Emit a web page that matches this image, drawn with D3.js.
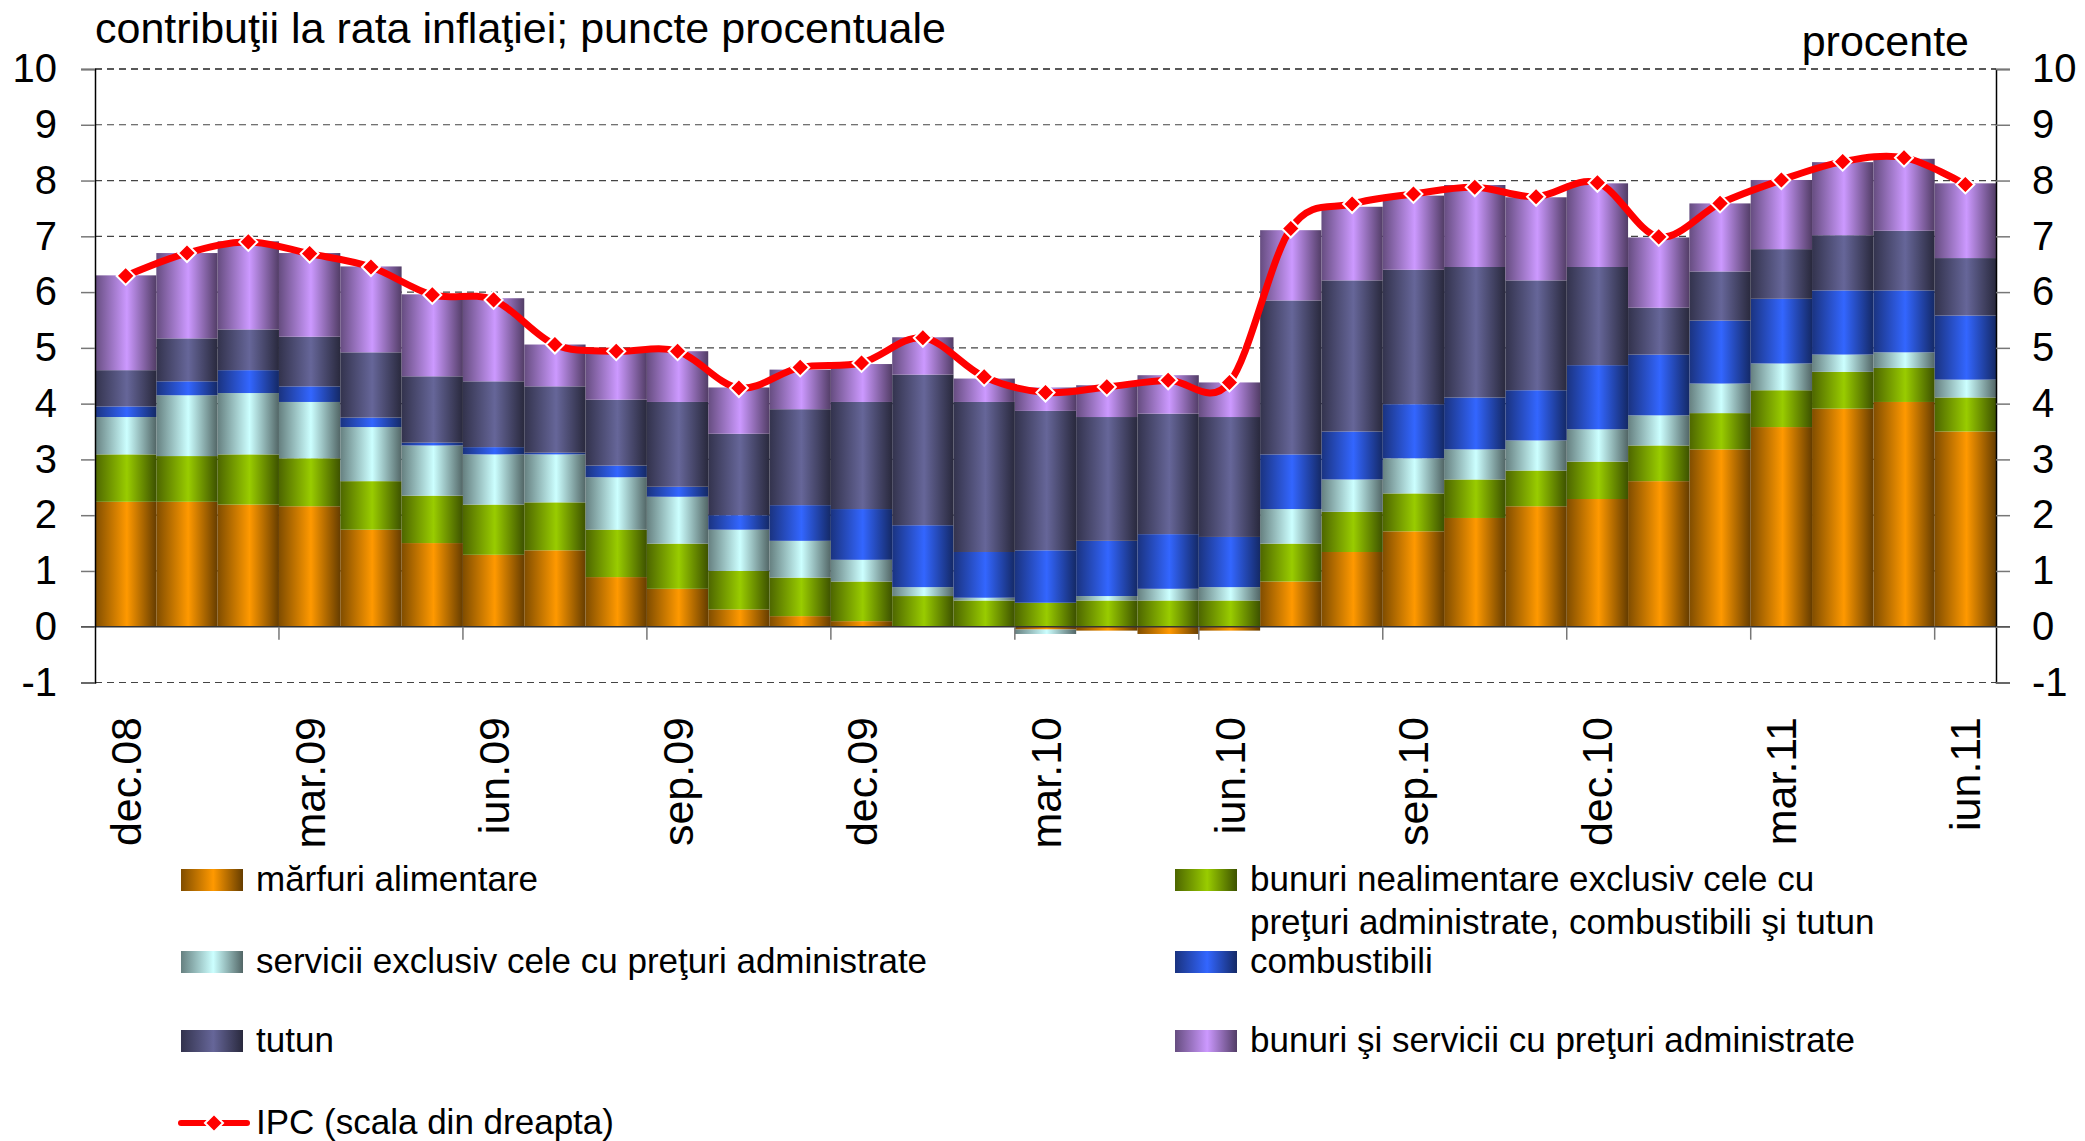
<!DOCTYPE html>
<html>
<head>
<meta charset="utf-8">
<script src="https://cdn.jsdelivr.net/npm/d3@7"></script>
<style>
  body { margin: 0; background: #fff; }
  text { font-family: "Liberation Sans", Arial, sans-serif; fill: #000; }
</style>
</head>
<body>
<div id="chart"></div>
<script>
// data
var months = ["dec.08","ian.09","feb.09","mar.09","apr.09","mai.09","iun.09","iul.09","aug.09","sep.09","oct.09","nov.09",
  "dec.09","ian.10","feb.10","mar.10","apr.10","mai.10","iun.10","iul.10","aug.10","sep.10","oct.10","nov.10",
  "dec.10","ian.11","feb.11","mar.11","apr.11","mai.11","iun.11"];

var alimentare   = [2.24,2.24,2.19,2.16,1.74,1.50,1.29,1.37,0.89,0.68,0.31,0.19,0.10,0.00,0.00,-0.05,-0.07,-0.13,-0.07,0.81,1.34,1.71,1.95,2.16,2.29,2.61,3.18,3.58,3.91,4.03,3.50];
var nealimentare = [0.85,0.82,0.90,0.86,0.87,0.85,0.90,0.86,0.85,0.81,0.69,0.69,0.71,0.55,0.47,0.43,0.47,0.47,0.47,0.68,0.72,0.68,0.69,0.64,0.67,0.64,0.65,0.66,0.66,0.61,0.61];
var servicii     = [0.67,1.09,1.10,1.01,0.97,0.90,0.90,0.86,0.94,0.84,0.74,0.66,0.39,0.16,0.05,-0.08,0.08,0.21,0.24,0.62,0.58,0.63,0.54,0.54,0.58,0.54,0.53,0.48,0.31,0.28,0.32];
var combustibili = [0.19,0.25,0.41,0.28,0.17,0.05,0.13,0.03,0.21,0.18,0.26,0.64,0.91,1.11,0.82,0.94,0.99,0.98,0.90,0.98,0.86,0.97,0.93,0.90,1.15,1.09,1.13,1.16,1.15,1.11,1.15];
var tutun        = [0.65,0.77,0.73,0.89,1.17,1.19,1.18,1.19,1.18,1.52,1.46,1.72,1.92,2.70,2.69,2.50,2.22,2.16,2.15,2.76,2.71,2.41,2.34,1.97,1.76,0.84,0.88,0.89,0.99,1.07,1.03];
var administrate = [1.70,1.53,1.58,1.50,1.54,1.47,1.49,0.75,0.87,0.91,0.83,0.71,0.68,0.67,0.42,0.42,0.57,0.69,0.62,1.26,1.32,1.33,1.47,1.49,1.50,1.26,1.22,1.24,1.31,1.29,1.34];
var ipc          = [6.29,6.70,6.90,6.69,6.45,5.95,5.86,5.06,4.94,4.94,4.28,4.65,4.73,5.18,4.48,4.20,4.30,4.42,4.38,7.14,7.58,7.76,7.88,7.71,7.96,6.99,7.59,8.01,8.34,8.41,7.93];

var yTicks = [-1,0,1,2,3,4,5,6,7,8,9,10];

var seriesNames = ["mărfuri alimentare",
  "bunuri nealimentare exclusiv cele cu|preţuri administrate, combustibili şi tutun",
  "servicii exclusiv cele cu preţuri administrate",
  "combustibili",
  "tutun",
  "bunuri şi servicii cu preţuri administrate"];
var seriesColors = ["#ff9900","#99cc00","#ccffff","#3366ff","#666699","#cc99ff"];
var seriesValues = [alimentare, nealimentare, servicii, combustibili, tutun, administrate];

var W = 2085, H = 1141;
var m = { left: 95, right: 1996, top: 69, bottom: 682.5 };

var svg = d3.select("#chart").append("svg")
  .attr("width", W).attr("height", H);

// cylinder-like horizontal gradients
var defs = svg.append("defs");
seriesColors.forEach(function (c, i) {
  var g = defs.append("linearGradient").attr("id", "grad" + i)
    .attr("x1", "0%").attr("x2", "100%").attr("y1", "0%").attr("y2", "0%");
  var dark = d3.interpolateRgb(c, "#000");
  g.append("stop").attr("offset", "0%").attr("stop-color", dark(0.5));
  g.append("stop").attr("offset", "52%").attr("stop-color", c);
  g.append("stop").attr("offset", "100%").attr("stop-color", dark(0.6));
});

// scales
var x = d3.scaleBand().domain(months).range([m.left, m.right]).padding(0);
var y = d3.scaleLinear().domain([-1, 10]).range([m.bottom, m.top]);

// gridlines
svg.append("g").selectAll("line")
  .data(yTicks.filter(function (d) { return d !== 0; }))
  .enter().append("line")
  .attr("x1", m.left).attr("x2", m.right)
  .attr("y1", function (d) { return y(d); }).attr("y2", function (d) { return y(d); })
  .attr("stroke", function (d) { return d === 10 ? "#222" : "#444"; })
  .attr("stroke-width", function (d) { return d === 10 ? 1.6 : 1.2; })
  .attr("stroke-dasharray", "7,5");

// stacked bars
var table = months.map(function (mo, i) {
  var row = { month: mo };
  seriesValues.forEach(function (s, k) { row["s" + k] = s[i]; });
  return row;
});
var stack = d3.stack().keys(["s0","s1","s2","s3","s4","s5"]).offset(d3.stackOffsetDiverging);
var layers = stack(table);

svg.append("g").selectAll("g")
  .data(layers)
  .enter().append("g")
  .attr("fill", function (d, i) { return "url(#grad" + i + ")"; })
  .selectAll("rect")
  .data(function (d) { return d; })
  .enter().append("rect")
  .attr("x", function (d) { return x(d.data.month); })
  .attr("width", x.bandwidth())
  .attr("y", function (d) { return y(Math.max(d[0], d[1])); })
  .attr("height", function (d) { return Math.abs(y(d[0]) - y(d[1])); });

// zero line
svg.append("line")
  .attr("x1", m.left - 14).attr("x2", m.right + 14)
  .attr("y1", y(0)).attr("y2", y(0))
  .attr("stroke", "#333").attr("stroke-width", 1.5);

// category ticks every 3 months
svg.append("g").selectAll("line")
  .data(months.filter(function (d, i) { return i % 3 === 0 && i > 0; }))
  .enter().append("line")
  .attr("x1", function (d) { return x(d); }).attr("x2", function (d) { return x(d); })
  .attr("y1", y(0)).attr("y2", y(0) + 13)
  .attr("stroke", "#777").attr("stroke-width", 1.5);

// x labels
svg.append("g").selectAll("text")
  .data(months.filter(function (d, i) { return i % 3 === 0; }))
  .enter().append("text")
  .attr("transform", function (d) { return "translate(" + (x(d) + x.bandwidth() / 2) + ",717) rotate(-90)"; })
  .attr("text-anchor", "end")
  .attr("dy", "0.35em")
  .style("font-size", "43px")
  .text(function (d) { return d; });

// y axes
var fmt = function (d) { return String(d); };
var axL = svg.append("g").attr("transform", "translate(" + m.left + ",0)")
  .call(d3.axisLeft(y).tickValues(yTicks).tickSize(14).tickPadding(24).tickFormat(fmt));
var axR = svg.append("g").attr("transform", "translate(" + m.right + ",0)")
  .call(d3.axisRight(y).tickValues(yTicks).tickSize(14).tickPadding(22).tickFormat(fmt));
[axL, axR].forEach(function (a) {
  a.select(".domain").attr("stroke", "#000").attr("stroke-width", 1.5);
  a.selectAll(".tick line").attr("stroke", "#777").attr("stroke-width", 1.5);
  a.selectAll(".tick text").style("font-size", "40px").style("font-family", "Liberation Sans, Arial, sans-serif").attr("fill", "#000");
});

// IPC line
var line = d3.line()
  .x(function (d, i) { return x(months[i]) + x.bandwidth() / 2; })
  .y(function (d) { return y(d); })
  .curve(d3.curveCardinal.tension(0));
svg.append("path")
  .datum(ipc)
  .attr("fill", "none")
  .attr("stroke", "#ff0000")
  .attr("stroke-width", 7)
  .attr("stroke-linejoin", "round")
  .attr("d", line);

function diamond(r) { return "M0," + (-r) + "L" + r + ",0L0," + r + "L" + (-r) + ",0Z"; }

svg.append("g").selectAll("path")
  .data(ipc)
  .enter().append("path")
  .attr("transform", function (d, i) { return "translate(" + (x(months[i]) + x.bandwidth() / 2) + "," + y(d) + ")"; })
  .attr("d", diamond(9))
  .attr("fill", "#ff0000")
  .attr("stroke", "#fff")
  .attr("stroke-width", 2);

// titles
svg.append("text").attr("x", 95).attr("y", 43).style("font-size", "43px")
  .text("contribuţii la rata inflaţiei; puncte procentuale");
svg.append("text").attr("x", 1969).attr("y", 56).attr("text-anchor", "end").style("font-size", "43px")
  .text("procente");

// legend
var legendPos = [
  { x: 181, y: 880 }, { x: 1175, y: 880 },
  { x: 181, y: 962 }, { x: 1175, y: 962 },
  { x: 181, y: 1041 }, { x: 1175, y: 1041 }
];
var legend = svg.append("g");
seriesNames.forEach(function (name, i) {
  var p = legendPos[i];
  legend.append("rect").attr("x", p.x).attr("y", p.y - 11).attr("width", 62).attr("height", 22)
    .attr("fill", "url(#grad" + i + ")");
  var t = legend.append("text").attr("x", p.x + 75).attr("y", p.y + 11).style("font-size", "35px");
  name.split("|").forEach(function (part, j) {
    t.append("tspan").attr("x", p.x + 75).attr("dy", j === 0 ? 0 : 43).text(part);
  });
});
legend.append("line").attr("x1", 181).attr("x2", 247).attr("y1", 1123).attr("y2", 1123)
  .attr("stroke", "#ff0000").attr("stroke-width", 6).attr("stroke-linecap", "round");
legend.append("path").attr("transform", "translate(214,1123)").attr("d", diamond(9))
  .attr("fill", "#ff0000").attr("stroke", "#fff").attr("stroke-width", 2);
legend.append("text").attr("x", 256).attr("y", 1134).style("font-size", "35px").text("IPC (scala din dreapta)");
</script>
</body>
</html>
